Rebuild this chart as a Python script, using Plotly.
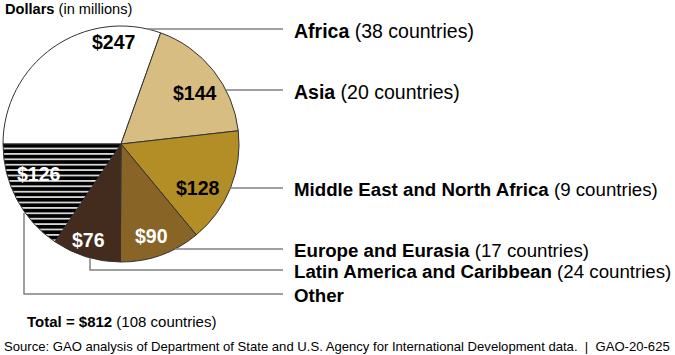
import math
import plotly.graph_objects as go

# ---- data ----
regions = ["Africa", "Asia", "Middle East and North Africa", "Europe and Eurasia",
           "Latin America and Caribbean", "Other"]
countries = ["38 countries", "20 countries", "9 countries", "17 countries", "24 countries", ""]
values = [247, 144, 128, 90, 76, 126]
total_value = 812
total_countries = 108

colors = ["#FFFFFF", "#D8BD83", "#B38D25", "#886427", "#432B1D", "#000000"]
text_colors = ["#000000", "#000000", "#000000", "#FFFFFF", "#FFFFFF", "#FFFFFF"]

# value-label placement (radial fraction, angular offset from slice middle, degrees)
label_r = [0.865, 0.76, 0.75, 0.82, 0.856, 0.74]
label_dang = [31, 3.5, 7.6, 1.5, 1.4, 8]

W, H = 675, 355
cx, cy, R = 121, 144, 118  # pie geometry in px
START = 270  # first slice starts at 9 o'clock, clockwise

FONT = "Liberation Sans, Arial, sans-serif"


def px(x):
    return x / W


def py(y):
    return 1 - y / H


fig = go.Figure()
fig.add_trace(go.Pie(
    values=values,
    labels=regions,
    sort=False,
    direction="clockwise",
    rotation=START,
    hole=0,
    marker=dict(
        colors=colors,
        line=dict(color="#333333", width=1),
        pattern=dict(
            shape=["", "", "", "", "", "-"],
            fgcolor="#FFFFFF",
            bgcolor=colors,
            size=5.4,
            solidity=0.28,
            fillmode="replace",
        ),
    ),
    textinfo="none",
    domain=dict(x=[(cx - R) / W, (cx + R) / W], y=[1 - (cy + R) / H, 1 - (cy - R) / H]),
    showlegend=False,
    hoverinfo="label+value",
))

shapes = []
annotations = []

# value labels inside slices, positioned from cumulative data angles
tot = sum(values)
cum = 0
for i, v in enumerate(values):
    a0 = START + 360 * cum / tot
    a1 = START + 360 * (cum + v) / tot
    cum += v
    mid = math.radians((a0 + a1) / 2 + label_dang[i])
    lx = cx + label_r[i] * R * math.sin(mid)
    ly = cy - label_r[i] * R * math.cos(mid)
    annotations.append(dict(xref="paper", yref="paper", x=px(lx), y=py(ly),
                            text="<b>$%d</b>" % v, showarrow=False,
                            xanchor="center", yanchor="middle",
                            font=dict(family=FONT, size=19.5, color=text_colors[i])))

# leader-line label rows (y in px)
label_y = [29, 90, 188, 249, 270, 294]
line_end_x = 283
label_x = 292

for i in range(4):
    y = label_y[i]
    dy = y - cy
    x0 = cx + math.sqrt(max(R * R - dy * dy, 0))
    shapes.append(dict(type="line", xref="paper", yref="paper",
                       x0=px(x0), y0=py(y), x1=px(line_end_x), y1=py(y),
                       line=dict(color="#808080", width=1.5)))

for i, vx, y0 in [(4, 90, 258), (5, 24, 213)]:
    y = label_y[i]
    shapes.append(dict(type="path", xref="paper", yref="paper",
                       path="M %f %f L %f %f L %f %f" % (px(vx), py(y0), px(vx), py(y), px(line_end_x), py(y)),
                       line=dict(color="#808080", width=1.5)))

for i, name in enumerate(regions):
    t = "<b>%s</b>" % name
    if countries[i]:
        t += " (%s)" % countries[i]
    annotations.append(dict(xref="paper", yref="paper", x=px(label_x), y=py(label_y[i] + 1.5),
                            text=t, showarrow=False, xanchor="left", yanchor="middle",
                            font=dict(family=FONT, size=19.5 if i < 2 else 18.7, color="#000000")))

annotations.append(dict(xref="paper", yref="paper", x=px(3), y=py(9),
                        text="<b>Dollars</b> (in millions)", showarrow=False,
                        xanchor="left", yanchor="middle",
                        font=dict(family=FONT, size=14.6, color="#000000")))
annotations.append(dict(xref="paper", yref="paper", x=px(25), y=py(321),
                        text="<b>Total = $%d</b> (%d countries)" % (total_value, total_countries),
                        showarrow=False, xanchor="left", yanchor="middle",
                        font=dict(family=FONT, size=15, color="#000000")))
annotations.append(dict(xref="paper", yref="paper", x=px(2), y=py(346),
                        text="Source: GAO analysis of Department of State and U.S. Agency for International Development data.  |  GAO-20-625",
                        showarrow=False, xanchor="left", yanchor="middle",
                        font=dict(family=FONT, size=13.1, color="#000000")))

fig.update_layout(
    width=W, height=H,
    margin=dict(l=0, r=0, t=0, b=0),
    paper_bgcolor="#FFFFFF",
    plot_bgcolor="#FFFFFF",
    shapes=shapes,
    annotations=annotations,
)

fig.write_html("out.html",
               config={"displayModeBar": False},
               post_script="document.body.style.margin='0';document.body.style.overflow='hidden';")
